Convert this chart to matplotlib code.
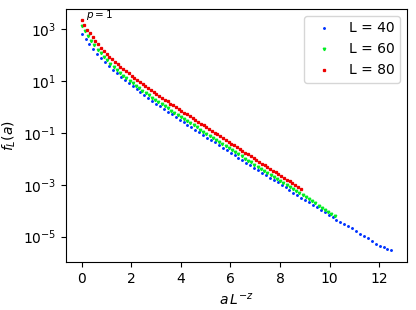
import numpy as np
import matplotlib
matplotlib.use("Agg")
import matplotlib.pyplot as plt

sizes = [40, 60, 80]
z = 0.5
a_vals = np.arange(80)

logf_40 = [2.82, 2.61, 2.41, 2.22, 2.05, 1.88, 1.73, 1.58, 1.44, 1.30,
           1.17, 1.04, 0.92, 0.80, 0.68, 0.57, 0.46, 0.35, 0.24, 0.13,
           0.03, -0.08, -0.18, -0.28, -0.39, -0.49, -0.59, -0.69, -0.78, -0.88,
           -0.98, -1.08, -1.18, -1.27, -1.37, -1.47, -1.57, -1.66, -1.76, -1.86,
           -1.95, -2.05, -2.15, -2.24, -2.34, -2.43, -2.53, -2.63, -2.72, -2.82,
           -2.91, -3.01, -3.10, -3.20, -3.30, -3.39, -3.49, -3.58, -3.68, -3.77,
           -3.87, -3.96, -4.06, -4.16, -4.25, -4.35, -4.43, -4.51, -4.60, -4.68,
           -4.78, -4.88, -4.97, -5.06, -5.15, -5.28, -5.34, -5.40, -5.46, -5.53]

logf_60 = [3.13, 2.92, 2.72, 2.54, 2.37, 2.21, 2.06, 1.93, 1.79, 1.67,
           1.55, 1.43, 1.32, 1.21, 1.11, 1.01, 0.91, 0.81, 0.72, 0.63,
           0.54, 0.45, 0.36, 0.28, 0.19, 0.11, 0.02, -0.06, -0.15, -0.23,
           -0.31, -0.39, -0.47, -0.55, -0.63, -0.71, -0.79, -0.87, -0.95, -1.03,
           -1.11, -1.19, -1.27, -1.35, -1.43, -1.51, -1.59, -1.67, -1.75, -1.83,
           -1.91, -1.99, -2.07, -2.14, -2.22, -2.30, -2.38, -2.46, -2.54, -2.62,
           -2.70, -2.77, -2.85, -2.93, -3.01, -3.09, -3.17, -3.25, -3.33, -3.40,
           -3.48, -3.56, -3.64, -3.72, -3.80, -3.88, -3.96, -4.03, -4.11, -4.19]

logf_80 = [3.33, 3.15, 2.98, 2.83, 2.68, 2.54, 2.41, 2.28, 2.17, 2.05,
           1.94, 1.84, 1.74, 1.65, 1.55, 1.46, 1.37, 1.29, 1.20, 1.12,
           1.04, 0.96, 0.88, 0.80, 0.73, 0.65, 0.57, 0.50, 0.43, 0.35,
           0.28, 0.21, 0.13, 0.06, -0.01, -0.08, -0.15, -0.22, -0.29, -0.36,
           -0.43, -0.50, -0.57, -0.64, -0.71, -0.78, -0.85, -0.92, -0.99, -1.06,
           -1.13, -1.20, -1.27, -1.34, -1.41, -1.48, -1.55, -1.62, -1.69, -1.76,
           -1.83, -1.90, -1.97, -2.04, -2.11, -2.18, -2.25, -2.31, -2.38, -2.45,
           -2.52, -2.59, -2.66, -2.73, -2.80, -2.87, -2.94, -3.02, -3.09, -3.17]

series = [logf_40, logf_60, logf_80]
colors = ["#0033ff", "#00ee22", "#ee0000"]
markers = [".", "v", "s"]
msizes = [2.2, 1.8, 1.4]

fig = plt.figure(figsize=(4.16, 3.10), dpi=100)
ax = fig.add_axes([0.159, 0.155, 0.819, 0.816])

for L, lf, c, m, ms in zip(sizes, series, colors, markers, msizes):
    x = a_vals / L**z
    ax.plot(x, 10.0**np.array(lf), linestyle="none", marker=m, color=c,
            markersize=ms, label=f"L = {L}")

ax.set_yscale("log")
ax.set_xticks([0, 2, 4, 6, 8, 10, 12])
ax.set_yticks([1e3, 1e1, 1e-1, 1e-3, 1e-5])
ax.minorticks_off()
ax.set_xlabel(r"$a\,L^{-z}$")
ax.set_ylabel(r"$f_L(a)$")
ax.text(0.18, 2.6e3, r"$p=1$", fontsize=7.5)
ax.legend(loc="upper right", fontsize=10)

fig.savefig("out.png", dpi=100)
